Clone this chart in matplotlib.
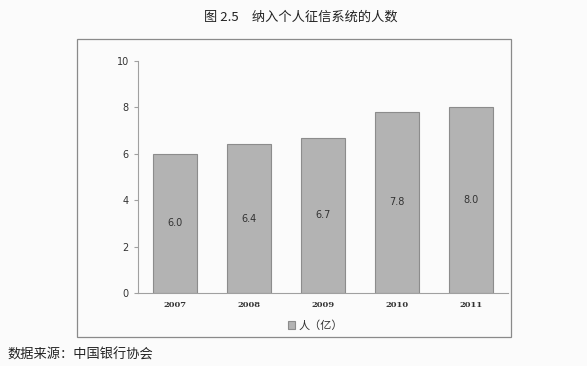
import matplotlib.pyplot as plt
from matplotlib.patches import Rectangle

plt.rcParams['font.family'] = ['Noto Sans CJK SC', 'DejaVu Sans']

# data
years = ['2007', '2008', '2009', '2010', '2011']
people = [6.0, 6.4, 6.7, 7.8, 8.0]
labels = ['6.0', '6.4', '6.7', '7.8', '8.0']

fig = plt.figure(figsize=(5.87, 3.66), dpi=100)
fig.patch.set_facecolor('#fbfbfb')

# outer frame around the chart
fig.patches.append(Rectangle((0.131, 0.079), 0.739, 0.814, transform=fig.transFigure,
                             fill=False, edgecolor='#8a8a8a', linewidth=0.9))

ax = fig.add_axes([0.235, 0.1995, 0.63, 0.634])
ax.set_facecolor('none')
bars = ax.bar(years, people, width=0.6, color='#b3b3b3', edgecolor='#8c8c8c',
              linewidth=0.8, label='人（亿）')
for b, t in zip(bars, labels):
    ax.text(b.get_x() + b.get_width() / 2, b.get_height() / 2, t,
            ha='center', va='center', fontsize=7, color='#333333',
            family=['DejaVu Sans'])

ax.set_ylim(0, 10)
ax.set_xlim(-0.5, 4.5)
ax.set_yticks([0, 2, 4, 6, 8, 10])
for s in ['top', 'right']:
    ax.spines[s].set_visible(False)
ax.spines['left'].set_color('#a0a0a0')
ax.spines['bottom'].set_color('#a0a0a0')
ax.tick_params(axis='y', labelsize=7, colors='#a0a0a0', labelcolor='#333333', length=3)
ax.tick_params(axis='x', labelsize=6, length=0, pad=6, labelcolor='#333333')
for t in ax.get_yticklabels():
    t.set_family(['DejaVu Sans'])
for t in ax.get_xticklabels():
    t.set_fontweight('bold')
    t.set_family(['DejaVu Serif'])

ax.legend(loc='upper center', bbox_to_anchor=(0.48, -0.075), frameon=False,
          fontsize=8, handlelength=0.7, handleheight=0.7, handletextpad=0.3,
          labelcolor='#333333')

fig.text(0.512, 0.953, '图 2.5　纳入个人征信系统的人数', ha='center', va='center',
         fontsize=9.5, color='#222222')
fig.text(0.012, 0.03, '数据来源：中国银行协会', ha='left', va='center',
         fontsize=9.5, color='#222222')

fig.savefig('out.png', dpi=100, facecolor=fig.get_facecolor())
